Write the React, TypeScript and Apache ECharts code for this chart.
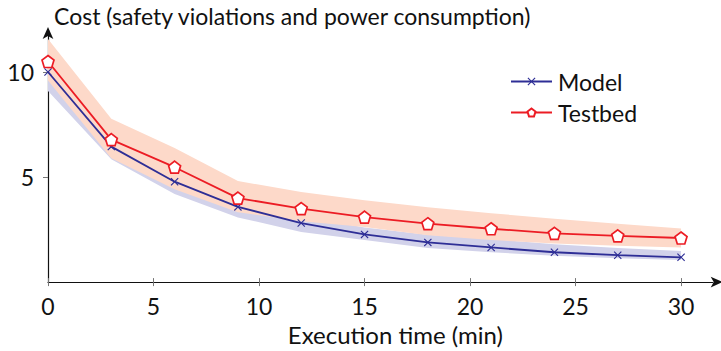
import React, { useEffect, useRef } from "react";
import * as echarts from "echarts";

const times = [0, 3, 6, 9, 12, 15, 18, 21, 24, 27, 30];
const model = [10.0, 6.45, 4.78, 3.58, 2.81, 2.27, 1.89, 1.65, 1.42, 1.28, 1.18];
const testbed = [10.5, 6.78, 5.47, 4.0, 3.5, 3.09, 2.78, 2.54, 2.32, 2.2, 2.1];
const modelUpper = [10.6, 7.0, 5.3, 4.0, 3.15, 2.6, 2.25, 2.05, 1.8, 1.62, 1.48];
const modelLower = [9.1, 5.85, 4.19, 3.08, 2.39, 2.0, 1.62, 1.42, 1.25, 1.13, 1.05];
const testbedUpper = [11.57, 7.78, 6.38, 4.81, 4.29, 3.9, 3.56, 3.28, 3.02, 2.78, 2.55];
const testbedLower = [9.6, 5.9, 4.42, 3.33, 2.9, 2.62, 2.23, 2.0, 1.84, 1.73, 1.65];
const xTicks = [0, 5, 10, 15, 20, 25, 30];
const yTicks = [5, 10];

const FONT = "Lato";
const BLUE = "#2e2e96";
const RED = "#ec1c24";
const BLUE_BAND = "#d2d2ea";
const RED_BAND = "#fdd9c9";

const CROSS = "path://M1,0 L5,4 L9,0 L10,1 L6,5 L10,9 L9,10 L5,6 L1,10 L0,9 L4,5 L0,1 Z";
const PENTAGON = "path://M5,0 L10,3.8 L8.1,10 L1.9,10 L0,3.8 Z";

export default function App() {
  const ref = useRef<HTMLDivElement>(null);
  useEffect(() => {
    document.body.style.margin = "0";
    const chart = echarts.init(ref.current!, null, { renderer: "svg" });
    const pair = (arr: number[]) => times.map((t, i) => [t, arr[i]]);
    const band = (name: string, up: number[], lo: number[], color: string) => ({
      name,
      type: "custom",
      silent: true,
      data: times.map((t, i) => [t, up[i], lo[i]]),
      encode: { x: 0, y: [1, 2] },
      renderItem: (params: any, api: any) => {
        if (params.dataIndex !== 0) return null;
        const top = times.map((t, i) => api.coord([t, up[i]]));
        const bot = times.map((t, i) => api.coord([t, lo[i]])).reverse();
        return {
          type: "polygon",
          shape: { points: top.concat(bot) },
          style: { fill: color, stroke: "none" },
        };
      },
    });
    chart.setOption({
      animation: false,
      textStyle: { fontFamily: FONT },
      grid: { left: 48, top: 30, right: 8.3, bottom: 65, containLabel: false },
      legend: {
        data: ["Model", "Testbed"],
        orient: "vertical",
        left: 510,
        top: 70,
        padding: 0,
        itemWidth: 41,
        itemHeight: 10,
        itemGap: 8,
        textStyle: { fontFamily: FONT, fontSize: 23, color: "#111", lineHeight: 23, padding: [0, 0, 0, 1] },
      },
      xAxis: [
        {
          type: "value",
          min: 0,
          max: 31.5,
          name: "Execution time (min)",
          nameLocation: "middle",
          nameGap: 39,
          nameTextStyle: { fontFamily: FONT, fontSize: 24, color: "#111", padding: [0, 0, 0, 30] },
          axisLine: {
            show: true,
            symbol: ["none", "arrow"],
            symbolSize: [8, 12],
            symbolOffset: [0, 10],
            lineStyle: { color: "#111", width: 1.2 },
          },
          axisTick: { show: true, length: 4, customValues: xTicks, lineStyle: { color: "#777" } },
          axisLabel: { customValues: xTicks, fontFamily: FONT, fontSize: 23, color: "#111", margin: 12 },
          splitLine: { show: false },
        },
        {
          type: "value",
          min: 0,
          max: 31.5,
          position: "bottom",
          axisLine: { show: false },
          axisTick: { show: true, inside: true, length: 4, customValues: xTicks, lineStyle: { color: "#777" } },
          axisLabel: { show: false },
          splitLine: { show: false },
        },
      ],
      yAxis: {
        type: "value",
        min: 0,
        max: 12,
        name: "Cost (safety violations and power consumption)",
        nameLocation: "end",
        nameGap: 3,
        nameTextStyle: { fontFamily: FONT, fontSize: 23, color: "#111", align: "left", padding: [0, 0, 0, 6] },
        axisLine: {
          show: true,
          symbol: ["none", "arrow"],
          symbolSize: [8, 12],
          symbolOffset: [0, 3],
          lineStyle: { color: "#111", width: 1.2 },
        },
        axisTick: { show: true, length: 5, customValues: yTicks, lineStyle: { color: "#777" } },
        axisLabel: { customValues: yTicks, fontFamily: FONT, fontSize: 23, color: "#111", margin: 14 },
        splitLine: { show: false },
      },
      series: [
        band("mBand", modelUpper, modelLower, BLUE_BAND),
        band("tBand", testbedUpper, testbedLower, RED_BAND),
        {
          name: "Model",
          type: "line",
          data: pair(model),
          symbol: CROSS,
          symbolSize: 8,
          itemStyle: { color: BLUE },
          lineStyle: { color: BLUE, width: 1.8 },
        },
        {
          name: "Testbed",
          type: "line",
          data: pair(testbed),
          symbol: PENTAGON,
          symbolSize: 12,
          itemStyle: { color: "#fff", borderColor: RED, borderWidth: 1.7 },
          lineStyle: { color: RED, width: 1.8 },
        },
      ],
    });
    return () => chart.dispose();
  }, []);
  return <div ref={ref} style={{ width: 721, height: 351 }} />;
}
